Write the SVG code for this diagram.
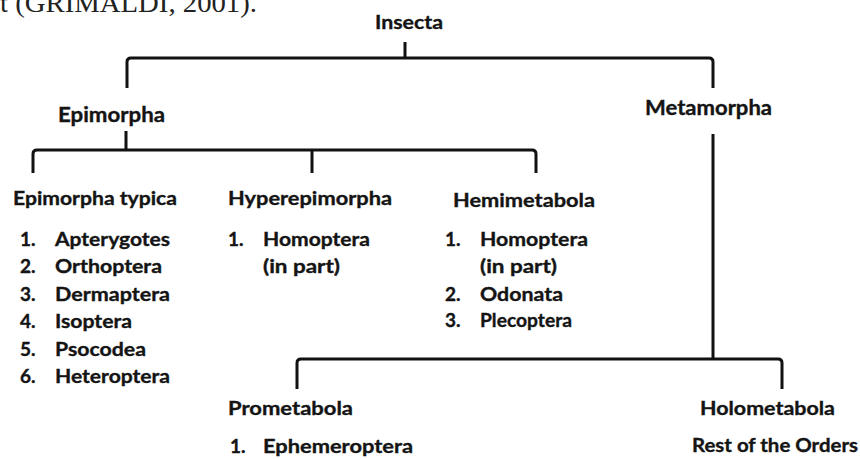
<svg xmlns="http://www.w3.org/2000/svg" width="860" height="459" viewBox="0 0 860 459">
<style>
.t{font-family:Lato,"Open Sans","Liberation Sans",sans-serif;font-weight:700;font-size:19px;fill:#141414;stroke:#141414;stroke-width:0.35px}
.h{font-size:20px}
.c{fill:none;stroke:#111;stroke-width:3;stroke-linecap:butt;stroke-linejoin:round}
.cap{font-family:"Liberation Serif","Times New Roman",serif;font-size:28px;fill:#222}
</style>
<rect width="860" height="459" fill="#fff"/>
<text class="cap" x="0" y="12" textLength="257" lengthAdjust="spacingAndGlyphs">t (GRIMALDI, 2001).</text>
<g id="connectors">
<path class="c" d="M127,88 V62 Q127,58 131,58 H709 Q713,58 713,62 V88"/>
<path class="c" d="M405,42 V58"/>
<path class="c" d="M33,173 V154 Q33,150 37,150 H532 Q536,150 536,154 V173"/>
<path class="c" d="M126,131 V150"/>
<path class="c" d="M312,150 V173"/>
<path class="c" d="M713,134 V359"/>
<path class="c" d="M297,389 V363 Q297,359 301,359 H778 Q782,359 782,363 V389"/>
</g>
<g id="insecta"><text class="t" x="375" y="29" textLength="68" lengthAdjust="spacingAndGlyphs">Insecta</text></g>
<g id="epimorpha"><text class="t h" x="58" y="122" textLength="107" lengthAdjust="spacingAndGlyphs">Epimorpha</text></g>
<g id="metamorpha"><text class="t h" x="645" y="115" textLength="127" lengthAdjust="spacingAndGlyphs">Metamorpha</text></g>
<g id="epimorpha-typica">
<text class="t" x="13" y="205" textLength="164" lengthAdjust="spacingAndGlyphs">Epimorpha typica</text>
<text class="t" x="20" y="246">1.</text><text class="t" x="55" y="246" textLength="115" lengthAdjust="spacingAndGlyphs">Apterygotes</text>
<text class="t" x="20" y="273">2.</text><text class="t" x="55" y="273" textLength="107" lengthAdjust="spacingAndGlyphs">Orthoptera</text>
<text class="t" x="20" y="301">3.</text><text class="t" x="55" y="301" textLength="115" lengthAdjust="spacingAndGlyphs">Dermaptera</text>
<text class="t" x="20" y="328">4.</text><text class="t" x="55" y="328" textLength="77" lengthAdjust="spacingAndGlyphs">Isoptera</text>
<text class="t" x="20" y="356">5.</text><text class="t" x="55" y="356" textLength="91" lengthAdjust="spacingAndGlyphs">Psocodea</text>
<text class="t" x="20" y="383">6.</text><text class="t" x="55" y="383" textLength="115" lengthAdjust="spacingAndGlyphs">Heteroptera</text>
</g>
<g id="hyperepimorpha">
<text class="t" x="228" y="205" textLength="164" lengthAdjust="spacingAndGlyphs">Hyperepimorpha</text>
<text class="t" x="228" y="246">1.</text><text class="t" x="263" y="246" textLength="107" lengthAdjust="spacingAndGlyphs">Homoptera</text>
<text class="t" x="263" y="273" textLength="77" lengthAdjust="spacingAndGlyphs">(in part)</text>
</g>
<g id="hemimetabola">
<text class="t" x="453" y="207" textLength="142" lengthAdjust="spacingAndGlyphs">Hemimetabola</text>
<text class="t" x="445" y="246">1.</text><text class="t" x="480" y="246" textLength="108" lengthAdjust="spacingAndGlyphs">Homoptera</text>
<text class="t" x="480" y="273" textLength="77" lengthAdjust="spacingAndGlyphs">(in part)</text>
<text class="t" x="445" y="301">2.</text><text class="t" x="480" y="301" textLength="83" lengthAdjust="spacingAndGlyphs">Odonata</text>
<text class="t" x="445" y="327">3.</text><text class="t" x="480" y="327" textLength="92" lengthAdjust="spacingAndGlyphs">Plecoptera</text>
</g>
<g id="prometabola">
<text class="t" x="228" y="415" textLength="125" lengthAdjust="spacingAndGlyphs">Prometabola</text>
<text class="t" x="230" y="453">1.</text><text class="t" x="263" y="453" textLength="150" lengthAdjust="spacingAndGlyphs">Ephemeroptera</text>
</g>
<g id="holometabola">
<text class="t" x="700" y="415" textLength="135" lengthAdjust="spacingAndGlyphs">Holometabola</text>
<text class="t" x="692" y="452" textLength="166" lengthAdjust="spacingAndGlyphs">Rest of the Orders</text>
</g>
</svg>
